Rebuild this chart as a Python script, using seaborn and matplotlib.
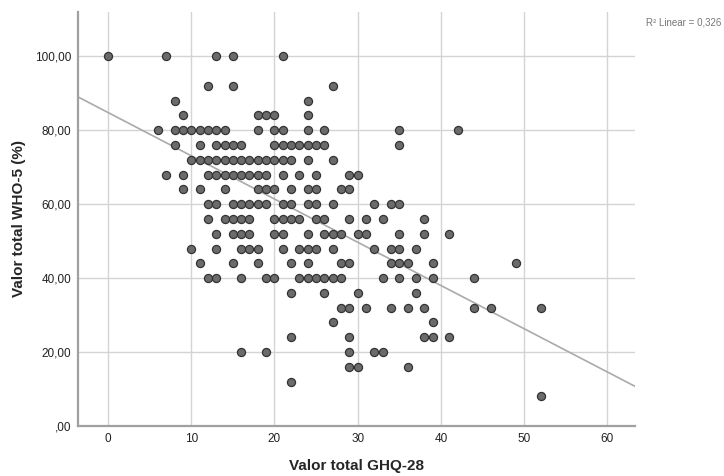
import numpy as np
import pandas as pd
import seaborn as sns
import matplotlib.pyplot as plt
from matplotlib.ticker import FuncFormatter

# GHQ-28 total (x) and WHO-5 total in % (y)
ghq = [
    0, 7, 13, 15, 21,                                            # 100
    12, 15, 27,                                                  # 92
    8, 24,                                                       # 88
    9, 18, 19, 20, 24,                                           # 84
    6, 8, 9, 10, 11, 12, 13, 14, 18, 20, 21, 24, 26, 35, 42,     # 80
    8, 11, 13, 14, 15, 16, 20, 21, 22, 23, 24, 25, 26, 35,       # 76
    10, 11, 12, 13, 14, 15, 16, 17, 18, 19, 20, 21, 22, 24, 27,  # 72
    7, 9, 12, 13, 14, 15, 16, 17, 18, 19, 21, 23, 25, 29, 30,    # 68
    9, 11, 14, 18, 19, 20, 22, 24, 25, 28, 29,                   # 64
    12, 13, 15, 16, 17, 18, 19, 21, 22, 24, 25, 27, 32, 34, 35,  # 60
    12, 14, 15, 16, 17, 20, 21, 22, 23, 25, 26, 29, 31, 33, 38,  # 56
    13, 15, 16, 17, 20, 21, 24, 26, 27, 28, 30, 31, 35, 38, 41,  # 52
    10, 13, 16, 17, 18, 21, 23, 24, 25, 27, 32, 34, 35, 37,      # 48
    11, 15, 18, 22, 24, 28, 29, 34, 35, 36, 39, 49,              # 44
    12, 13, 16, 19, 20, 23, 24, 25, 26, 27, 28, 33, 35, 37, 39, 44,  # 40
    22, 26, 30, 37,                                              # 36
    28, 29, 31, 34, 36, 38, 44, 46, 52,                          # 32
    27, 39,                                                      # 28
    22, 29, 38, 39, 41,                                          # 24
    16, 19, 29, 32, 33,                                          # 20
    29, 30, 36,                                                  # 16
    22,                                                          # 12
    52,                                                          # 8
]
row_levels = [100, 92, 88, 84, 80, 76, 72, 68, 64, 60, 56, 52, 48, 44,
              40, 36, 32, 28, 24, 20, 16, 12, 8]
row_counts = [5, 3, 2, 5, 15, 14, 15, 15, 11, 15, 15, 15, 14, 12,
              16, 4, 9, 2, 5, 5, 3, 1, 1]
who5 = np.repeat(row_levels, row_counts)

# SPSS fit line (computed on all cases, incl. overlapping ones)
fit_intercept = 84.8
fit_slope = -1.17
r2_label = 'R² Linear = 0,326'

df = pd.DataFrame({'GHQ': ghq, 'WHO5': who5})

sns.set_style('white')
plt.rcParams['font.family'] = ['Liberation Sans', 'DejaVu Sans']

fig = plt.figure(figsize=(7.24, 4.76), dpi=100)
ax = fig.add_axes([0.1077, 0.105, 0.7693, 0.870])

ax.set_xlim(-3.6, 63.3)
ax.set_ylim(0, 112)
ax.set_xticks(range(0, 61, 10))
ax.set_yticks(range(0, 101, 20))
ax.grid(True, color='#d4d4d4', linewidth=1.0)
ax.set_axisbelow(True)

ax.axline((0, fit_intercept), slope=fit_slope, color='#aaaaaa',
          linewidth=1.2, zorder=2)

sns.scatterplot(data=df, x='GHQ', y='WHO5', ax=ax, s=34, color='#6b6b6b',
                edgecolor='#333333', linewidth=0.9, zorder=3)

ax.yaxis.set_major_formatter(FuncFormatter(
    lambda v, p: ',00' if v == 0 else f'{v:.2f}'.replace('.', ',')))

for side in ['top', 'right']:
    ax.spines[side].set_visible(False)
for side in ['left', 'bottom']:
    ax.spines[side].set_color('#a0a0a0')
    ax.spines[side].set_linewidth(1.6)

ax.tick_params(length=0, labelsize=8.5, colors='#222222', pad=5)
ax.set_xlabel('Valor total GHQ-28', fontsize=11, fontweight='bold', labelpad=10)
ax.set_ylabel('Valor total WHO-5 (%)', fontsize=11, fontweight='bold', labelpad=6)

fig.text(0.996, 0.952, r2_label, ha='right', va='center',
         fontsize=7, color='#777777')

fig.savefig('out.png', dpi=100)
